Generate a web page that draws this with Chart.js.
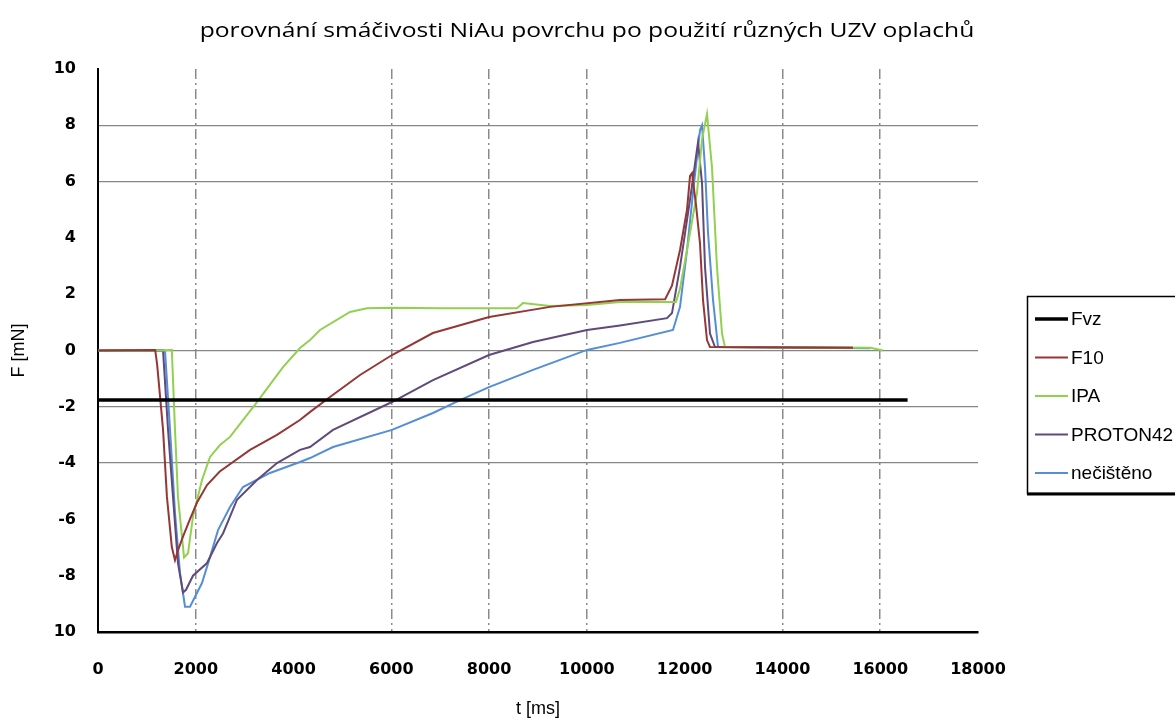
<!DOCTYPE html>
<html>
<head>
<meta charset="utf-8">
<script src="https://cdn.jsdelivr.net/npm/chart.js@4"></script>
<style>
  html, body { margin: 0; padding: 0; background: #fff; }
  #wrap { width: 1175px; height: 722px; }
</style>
</head>
<body>
<div id="wrap"><canvas id="chart" width="1175" height="722"></canvas></div>
<script>
// Achsen-Beschriftungen
const chartTitle = 'porovnání smáčivosti NiAu povrchu po použití různých UZV oplachů';
const xTicks = [0, 2000, 4000, 6000, 8000, 10000, 12000, 14000, 16000, 18000];
const yTickLabels = { 10: '10', 8: '8', 6: '6', 4: '4', 2: '2', 0: '0', '-2': '-2', '-4': '-4', '-6': '-6', '-8': '-8', '-10': '10' };

// Fvz – Grenzlinie
const fvzT = [0, 16560];
const fvzF = [-1.76, -1.76];

// F10
const f10T = [0, 1170, 1210, 1270, 1330, 1410, 1510, 1575, 1636, 1740, 1880, 2025, 2230, 2490, 3110, 3660, 4130, 4340, 4745, 5360, 6014, 6850, 8000, 9245, 10677, 11600, 11740, 11905, 12048, 12110, 12150, 12230, 12314, 12375, 12457, 12518, 15443];
const f10F = [0, 0.02, -0.5, -1.65, -2.8, -5.2, -6.98, -7.45, -7.1, -6.6, -6.0, -5.4, -4.78, -4.3, -3.53, -3.0, -2.47, -2.18, -1.65, -0.87, -0.16, 0.62, 1.19, 1.55, 1.79, 1.82, 2.3, 3.57, 5.0, 6.2, 6.3, 5.2, 3.8, 1.8, 0.37, 0.12, 0.1];

// IPA
const ipaT = [0, 1330, 1510, 1575, 1636, 1760, 1841, 1943, 2127, 2291, 2495, 2700, 3252, 3784, 4132, 4336, 4541, 5155, 5502, 6014, 7000, 8570, 8693, 9245, 10000, 10677, 11823, 11905, 12048, 12252, 12355, 12457, 12559, 12661, 12764, 12825, 15800, 16057];
const ipaF = [0, 0, 0.02, -2.82, -5.2, -7.35, -7.2, -5.9, -4.6, -3.78, -3.36, -3.07, -1.83, -0.59, 0.09, 0.37, 0.73, 1.37, 1.5, 1.52, 1.5, 1.5, 1.69, 1.58, 1.62, 1.72, 1.72, 2.2, 3.57, 5.6, 7.5, 8.4, 6.5, 2.96, 0.6, 0.12, 0.1, 0];

// PROTON42
const protonT = [0, 1330, 1432, 1534, 1636, 1739, 1800, 1943, 2230, 2434, 2557, 2843, 3252, 3661, 4132, 4336, 4807, 6014, 6852, 7998, 8898, 10002, 10677, 11639, 11741, 11905, 12109, 12273, 12355, 12416, 12518, 12620, 15443];
const protonF = [0, 0, -2.8, -5.2, -7.55, -8.6, -8.5, -8.0, -7.55, -6.84, -6.5, -5.3, -4.6, -4.0, -3.53, -3.43, -2.82, -1.83, -1.05, -0.16, 0.3, 0.73, 0.89, 1.15, 1.33, 2.97, 5.35, 7.4, 5.94, 2.97, 0.6, 0.12, 0.1];

// nečištěno
const necT = [0, 1370, 1473, 1575, 1677, 1780, 1882, 1984, 2127, 2291, 2455, 2700, 2966, 3518, 4132, 4336, 4807, 6014, 6852, 7405, 7998, 8898, 10002, 10677, 11761, 11905, 12048, 12170, 12314, 12355, 12416, 12477, 12580, 12682, 15791];
const necF = [0, 0, -2.8, -5.77, -7.9, -9.1, -9.1, -8.75, -8.26, -7.34, -6.38, -5.56, -4.85, -4.35, -3.96, -3.82, -3.43, -2.82, -2.22, -1.76, -1.3, -0.69, 0.02, 0.27, 0.73, 1.55, 3.57, 5.6, 7.83, 8.0, 6.5, 4.2, 1.8, 0.12, 0.08];

// sichtbare Gitterlinien (wie im Original)
const xGridShown = [2000, 6000, 8000, 10000, 14000, 16000];
const yGridShown = [8, 6, 0, -2, -4];

const zip = (t, f) => t.map((x, i) => ({ x, y: f[i] }));

const series = [
  { label: 'Fvz', t: fvzT, f: fvzF, color: '#000000', width: 3.5 },
  { label: 'F10', t: f10T, f: f10F, color: '#953735', width: 2 },
  { label: 'IPA', t: ipaT, f: ipaF, color: '#92D050', width: 2 },
  { label: 'PROTON42', t: protonT, f: protonF, color: '#604A7B', width: 2 },
  { label: 'nečištěno', t: necT, f: necF, color: '#558ED5', width: 2 }
];

// Titel über die ganze Breite zentriert (Excel-Stil, etwas breit gezogen)
const wideTitle = {
  id: 'wideTitle',
  afterDraw(chart) {
    const ctx = chart.ctx;
    ctx.save();
    ctx.font = '20px "Open Sans"';
    ctx.fillStyle = '#000';
    ctx.textAlign = 'center';
    ctx.textBaseline = 'middle';
    ctx.translate(587, 31);
    ctx.scale(1.23, 1);
    ctx.fillText(chartTitle, 0, 0);
    ctx.restore();
  }
};

// eigene Legende im Excel-Stil
const boxLegend = {
  id: 'boxLegend',
  afterDraw(chart) {
    const ctx = chart.ctx;
    ctx.save();
    ctx.strokeStyle = '#000';
    ctx.lineWidth = 1.5;
    ctx.strokeRect(1027.5, 296.5, 160, 197);
    ctx.lineWidth = 3;
    ctx.beginPath();
    ctx.moveTo(1027, 494);
    ctx.lineTo(1175, 494);
    ctx.stroke();
    ctx.font = '19px "Liberation Sans"';
    ctx.textBaseline = 'middle';
    ctx.fillStyle = '#000';
    chart.data.datasets.forEach((ds, i) => {
      const y = 319 + i * 38.5;
      ctx.strokeStyle = ds.borderColor;
      ctx.lineWidth = ds.borderWidth;
      ctx.beginPath();
      ctx.moveTo(1035, y);
      ctx.lineTo(1068, y);
      ctx.stroke();
      ctx.fillText(ds.label, 1071, y + 1);
    });
    ctx.restore();
  }
};

new Chart(document.getElementById('chart'), {
  type: 'line',
  data: {
    datasets: series.map(s => ({
      label: s.label,
      data: zip(s.t, s.f),
      borderColor: s.color,
      backgroundColor: s.color,
      borderWidth: s.width,
      pointRadius: 0,
      tension: 0,
      fill: false
    }))
  },
  plugins: [wideTitle, boxLegend],
  options: {
    responsive: false,
    animation: false,
    layout: { padding: { left: 0, right: 197, top: 69, bottom: 2 } },
    plugins: {
      legend: { display: false },
      tooltip: { enabled: false },
      title: { display: false }
    },
    scales: {
      x: {
        type: 'linear',
        min: 0,
        max: 18000,
        afterBuildTicks: scale => { scale.ticks = xTicks.map(v => ({ value: v })); },
        afterFit: scale => { scale.height = 88; },
        ticks: {
          color: '#000',
          padding: 28,
          maxRotation: 0,
          font: { family: '"DejaVu Sans"', size: 16, weight: 'bold' },
          callback: v => String(v)
        },
        grid: {
          drawTicks: false,
          color: ctx => xGridShown.includes(ctx.tick && ctx.tick.value) ? '#8a8a8a' : 'rgba(0,0,0,0)',
          lineWidth: 1.5
        },
        border: { display: true, color: '#000', width: 2.5, dash: [10, 4, 2, 4] },
        title: {
          display: true,
          text: 't [ms]',
          color: '#000',
          font: { family: '"Liberation Sans"', size: 18 },
          padding: { top: 0, bottom: 0 }
        }
      },
      y: {
        type: 'linear',
        min: -10,
        max: 10,
        ticks: {
          stepSize: 2,
          color: '#000',
          padding: 22,
          font: { family: '"DejaVu Sans"', size: 16, weight: 'bold' },
          callback: v => yTickLabels[v]
        },
        afterFit: scale => { scale.width = 98; },
        grid: {
          drawTicks: false,
          color: ctx => yGridShown.includes(ctx.tick && ctx.tick.value) ? '#868686' : 'rgba(0,0,0,0)',
          lineWidth: 1.3
        },
        border: { display: true, color: '#000', width: 2 },
        title: {
          display: true,
          text: 'F [mN]',
          color: '#000',
          font: { family: '"Liberation Sans"', size: 18 },
          padding: { top: 8, bottom: 0 }
        }
      }
    }
  }
});
</script>
</body>
</html>
